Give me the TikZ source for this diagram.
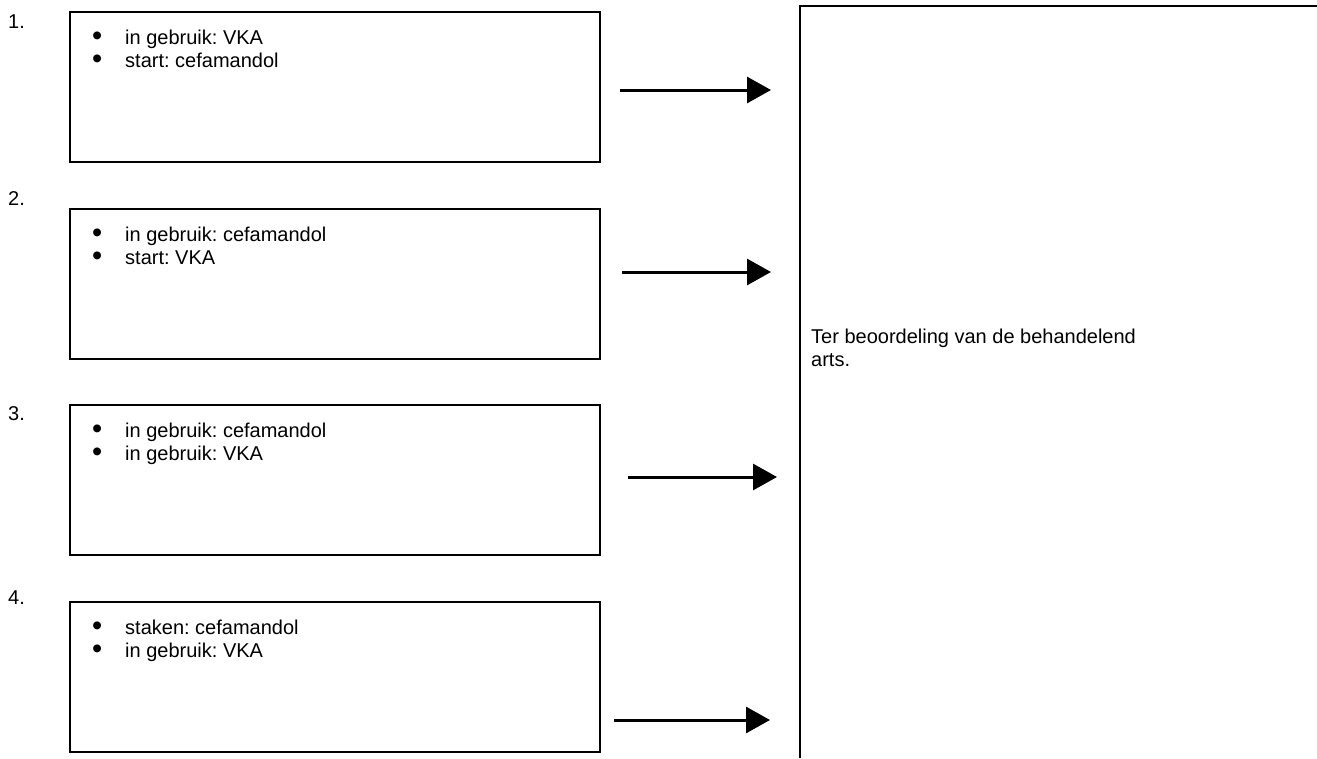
\documentclass[tikz,border=0pt]{standalone}
\usepackage{fontspec}
\setmainfont{Liberation Sans}
\usepackage{tikz}
\usetikzlibrary{positioning, arrows.meta}
\frenchspacing
\newcommand{\punt}{\makebox[33pt][l]{\smash{\raisebox{-1.2pt}{\scalebox{1.45}{•}}}}}

\begin{document}
\begin{tikzpicture}[
	x=1pt, y=-1pt,
	every node/.style={font=\fontsize{20}{23}\selectfont},
	casus/.style={draw, line width=1.5pt, minimum width=530pt, minimum height=150pt, anchor=north west, inner sep=0pt},
	lijst/.style={align=left, inner sep=0pt},
	nummer/.style={anchor=base west, inner sep=0pt},
	edge/.style={draw, line width=3pt, -{Triangle[length=24pt, width=26pt]}},
	kader/.style={draw, line width=2pt}
	]
	\useasboundingbox (0,0) rectangle (1317,758);
	
	% Define nodes
	\node[nummer] (n1) at (8,28) {1.};
	\node[nummer] (n2) at (8,205) {2.};
	\node[nummer] (n3) at (8,420) {3.};
	\node[nummer] (n4) at (8,604) {4.};
	
	\node[casus] (box1) at (69,11) {};
	\node[casus] (box2) at (69,208) {};
	\node[casus] (box3) at (69,404) {};
	\node[casus] (box4) at (69,601) {};
	
	\node[lijst, below right=19pt and 23pt of box1.north west, anchor=north west] (tekst1) {\punt in gebruik: VKA\\\punt start: cefamandol};
	\node[lijst, below right=19pt and 23pt of box2.north west, anchor=north west] (tekst2) {\punt in gebruik: cefamandol\\\punt start: VKA};
	\node[lijst, below right=19pt and 23pt of box3.north west, anchor=north west] (tekst3) {\punt in gebruik: cefamandol\\\punt in gebruik: VKA};
	\node[lijst, below right=19pt and 23pt of box4.north west, anchor=north west] (tekst4) {\punt staken: cefamandol\\\punt in gebruik: VKA};
	
	% Arrow end points
	\coordinate (p1) at (620,90);  \coordinate (q1) at (771,90);
	\coordinate (p2) at (622,272); \coordinate (q2) at (771,272);
	\coordinate (p3) at (628,477); \coordinate (q3) at (777,477);
	\coordinate (p4) at (614,720); \coordinate (q4) at (770,720);
	
	% Right panel
	\coordinate (hoek) at (800,6);
	\coordinate (onder) at (800,758);
	\coordinate (rechts) at (1317,6);
	\draw[kader] (onder) -- (hoek) -- (rechts);
	\node[lijst, anchor=north west] (advies) at (811,329) {Ter beoordeling van de behandelend\\arts.};
	
	% Draw edges
	\path [edge] (p1) -- (q1);
	\path [edge] (p2) -- (q2);
	\path [edge] (p3) -- (q3);
	\path [edge] (p4) -- (q4);
	
\end{tikzpicture}
\end{document}
